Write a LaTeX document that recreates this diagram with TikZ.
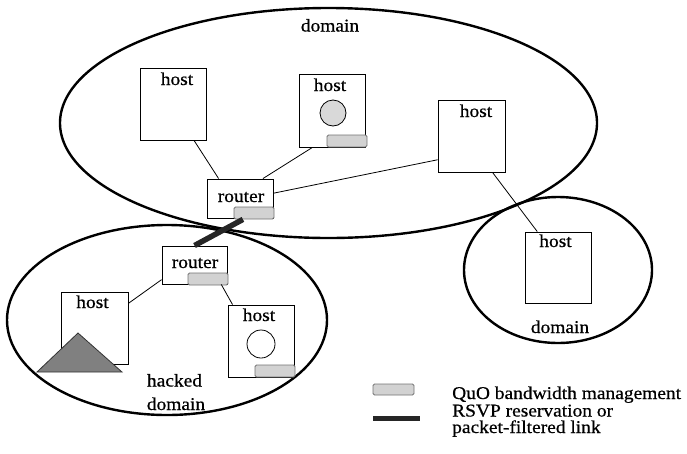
\documentclass[tikz,border=0pt]{standalone}
\usepackage{fontspec}
\setmainfont{Liberation Serif}[FakeStretch=1.08,FakeBold=0.6]
\usetikzlibrary{shapes.geometric}
\begin{document}
\begin{tikzpicture}[x=1pt,y=-1pt,
  dom/.style={ellipse, draw, line width=2.4pt, inner sep=0pt},
  hostbox/.style={draw, fill=white, line width=0.9pt, inner sep=0pt, minimum width=66, minimum height=72},
  routerbox/.style={draw, fill=white, line width=0.9pt, inner sep=0pt, minimum width=66, minimum height=39},
  quo/.style={draw=black!55, fill=gray!35, line width=0.8pt, rounded corners=1.5pt, inner sep=0pt, minimum width=40, minimum height=12},
  link/.style={line width=0.8pt},
  rsvp/.style={line width=5.5pt, draw=black!85},
  txt/.style={font=\fontsize{18}{15.5}\selectfont, inner sep=0pt}]
\useasboundingbox (0,0) rectangle (687,453);

% domains
\node[dom, minimum width=537, minimum height=230] (dmain) at (328.5,123) {};
\node[dom, minimum width=320, minimum height=190] (dhack) at (167,320) {};
\node[dom, minimum width=188, minimum height=146] (dright) at (558,270) {};

% main domain
\node[hostbox] (h1) at (173,104) {};
\node[hostbox, minimum height=73] (h2) at (332,110.5) {};
\node[hostbox, minimum width=67] (h3) at (471.5,136) {};
\node[routerbox] (r1) at (240,198.5) {};
\draw[fill=gray!30, line width=0.8pt] (333,113) circle (13);
\node[quo] (q1) at (347,141) {};
\node[quo] (q2) at (254,213) {};

% right domain
\node[hostbox, minimum height=71] (h4) at (558,267.5) {};

% hacked domain
\node[routerbox, minimum width=65, minimum height=38] (r2) at (194.5,265) {};
\node[hostbox, minimum width=67] (h5) at (94.5,328) {};
\node[hostbox] (h6) at (261,341) {};
\draw[fill=black!50, draw=black!80, line width=0.8pt] (37,372) -- (78,333) -- (122,372) -- cycle;
\draw[fill=white, line width=0.8pt] (261,344) circle (14);
\node[quo] (q3) at (208,279) {};
\node[quo] (q4) at (275,371) {};

% connections
\draw[link] (h1.-60) -- (r1.137);
\draw[link] (h2.242.5) -- (r1.41.6);
\draw[link] (r1.9) -- (h3.215.6);
\draw[link] (h3.-60.3) -- (h4.120.6);
\draw[link] (r2.204.8) -- (h5.36.7);
\draw[link] (r2.-36) -- (h6.128);
\draw[rsvp] (q2.210) -- (r2.north);

% labels
\node[txt, anchor=base] at (330,31.5) {domain};
\node[txt, anchor=base] at (177,85) {host};
\node[txt, anchor=base] at (330,91) {host};
\node[txt, anchor=base] at (476,117) {host};
\node[txt, anchor=base] at (241,202) {router};
\node[txt, anchor=base] at (555.5,247) {host};
\node[txt, anchor=base] at (560,333) {domain};
\node[txt, anchor=base] at (195,268) {router};
\node[txt, anchor=base] at (92.5,308) {host};
\node[txt, anchor=base] at (259,321) {host};
\node[txt, anchor=base] at (174.5,386.5) {hacked};
\node[txt, anchor=base] at (176,410) {domain};

% legend
\node[quo, minimum width=41, minimum height=11] (lq) at (393.5,389.5) {};
\coordinate (lr1) at (373,418);
\coordinate (lr2) at (420,418);
\draw[rsvp, line width=5pt] (lr1) -- (lr2);
\node[txt, anchor=base west] at (452,399) {QuO bandwidth management};
\node[txt, anchor=base west] at (452,416.5) {RSVP reservation or};
\node[txt, anchor=base west] at (452,433) {packet-filtered link};
\end{tikzpicture}
\end{document}
